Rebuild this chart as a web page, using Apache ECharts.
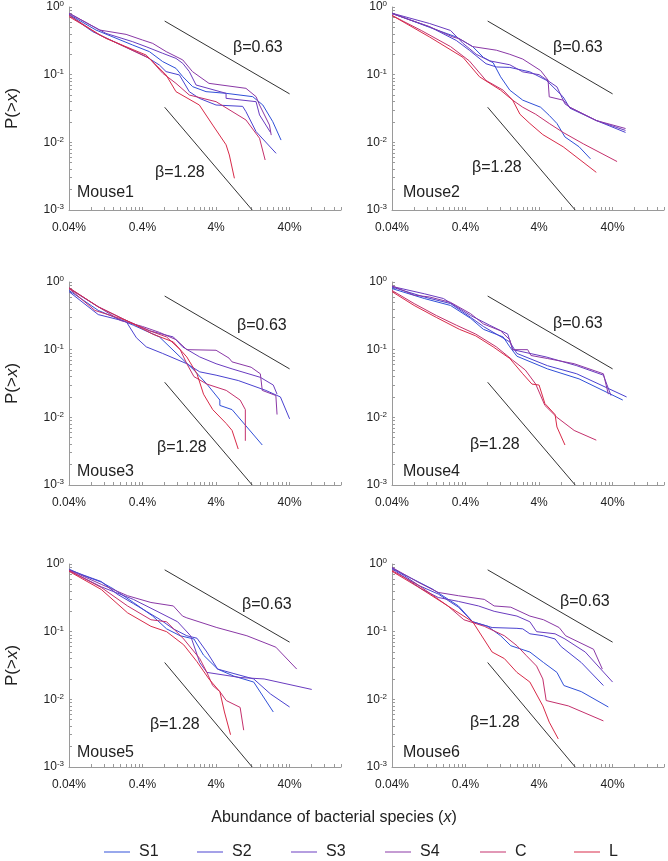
<!DOCTYPE html>
<html><head><meta charset="utf-8">
<script src="https://cdn.jsdelivr.net/npm/echarts@6/dist/echarts.min.js"></script>
<style>html,body{margin:0;padding:0;background:#fff}#c{width:668px;height:861px}</style>
</head><body><div id="c"></div>
<script>
// ---------- DATA ----------
const seriesNames = ['S1','S2','S3','S4','C','L'];
const mouseNames = ['Mouse1','Mouse2','Mouse3','Mouse4','Mouse5','Mouse6'];
const xTickValues = [0.04, 0.4, 4, 40];
const xTickLabels = ['0.04%', '0.4%', '4%', '40%'];
const yTickValues = [0.001, 0.01, 0.1, 1];
const yTickExps = ['-3', '-2', '-1', '0'];
const xRange = [0.04, 200];
const yRange = [0.001, 1];
const betaHighLabel = 'β=0.63';
const betaLowLabel = 'β=1.28';
const betaHighX = [0.8, 40];
const betaHighY = [[0.62,0.052],[0.62,0.052],[0.62,0.052],[0.62,0.052],[0.82,0.07],[0.82,0.07]];
const betaLowX = [0.8, 12.4];
const betaLowY = [[0.033,0.001],[0.033,0.001],[0.033,0.001],[0.033,0.001],[0.035,0.001],[0.035,0.001]];

// Mouse1
const m1S1 = [[0.04,0.78],[0.093,0.457],[0.294,0.274],[0.496,0.219],[0.752,0.156],[1.14,0.124],[1.41,0.0934],[1.92,0.0665],[2.92,0.0561],[5.47,0.053],[12.6,0.0473],[17.3,0.0356],[23.6,0.0202],[30.6,0.0108]];
const m1S2 = [[0.04,0.762],[0.084,0.432],[0.447,0.185],[0.678,0.139],[0.836,0.111],[1.27,0.099],[1.73,0.056],[2.37,0.0447],[4.0,0.0356],[9.2,0.034],[10.2,0.0284],[14,0.0144],[26.2,0.00688]];
const m1S3 = [[0.04,0.81],[0.127,0.408],[0.294,0.307],[0.447,0.259],[0.752,0.207],[1.14,0.174],[1.41,0.147],[1.73,0.111],[2.14,0.0703],[5.47,0.053],[5.47,0.0447],[14,0.0399],[15.6,0.0254],[22,0.014]];
const m1S4 = [[0.04,0.81],[0.104,0.457],[0.239,0.394],[0.40,0.325],[0.55,0.29],[0.84,0.219],[1.41,0.165],[1.91,0.111],[3.2,0.0744],[10.2,0.0628],[14,0.0473],[15.6,0.0356],[21.3,0.018],[22.5,0.0128]];
const m1C = [[0.04,0.762],[0.104,0.386],[0.496,0.174],[0.752,0.105],[1.14,0.0744],[1.73,0.05],[4.0,0.0399],[10.2,0.0214],[15.6,0.0115],[18.6,0.00548]];
const m1L = [[0.04,0.72],[0.127,0.344],[0.447,0.195],[0.55,0.156],[0.836,0.099],[1.14,0.0561],[2.37,0.0356],[3.6,0.018],[5.47,0.0092],[6.06,0.0065],[7.1,0.00294]];
// Mouse2
const m2S1 = [[0.04,0.81],[0.13,0.5],[0.3,0.36],[0.5,0.26],[0.7,0.18],[0.95,0.15],[1.2,0.093],[1.6,0.059],[2.4,0.042],[4.2,0.033],[5.5,0.025],[7,0.019],[9,0.012],[14,0.0086],[20,0.0057]];
const m2S2 = [[0.04,0.80],[0.13,0.51],[0.3,0.32],[0.45,0.23],[0.76,0.145],[1.05,0.13],[1.6,0.128],[3,0.11],[5,0.083],[8.5,0.047],[10.5,0.032],[24,0.021],[60,0.014]];
const m2S3 = [[0.04,0.81],[0.13,0.57],[0.25,0.45],[0.37,0.29],[0.56,0.2],[0.85,0.16],[1.6,0.14],[2.4,0.11],[4,0.1],[7,0.066],[9,0.037],[10.5,0.033],[24,0.021],[60,0.015]];
const m2S4 = [[0.04,0.80],[0.13,0.51],[0.27,0.36],[0.33,0.34],[0.5,0.26],[1.05,0.23],[1.6,0.2],[2.4,0.17],[4.2,0.115],[5.3,0.083],[5.5,0.047],[8.5,0.042],[10.4,0.033],[24,0.021],[60,0.016]];
const m2C = [[0.04,0.75],[0.1,0.45],[0.25,0.26],[0.45,0.16],[0.76,0.082],[1.3,0.059],[1.75,0.042],[2.4,0.033],[3.6,0.026],[5.5,0.019],[8.5,0.014],[16,0.0095],[46,0.0052]];
const m2L = [[0.04,0.75],[0.13,0.36],[0.37,0.18],[0.62,0.093],[1.2,0.059],[1.75,0.042],[2.2,0.026],[3,0.019],[4.5,0.013],[8.5,0.0086],[24,0.0036]];
// Mouse3
const m3S1 = [[0.04,0.75],[0.1,0.38],[0.3,0.23],[0.68,0.154],[1.3,0.078],[2,0.05],[3,0.031],[4.5,0.018],[4.5,0.015],[6.6,0.013],[17,0.0039]];
const m3S2 = [[0.04,0.72],[0.1,0.33],[0.24,0.26],[0.33,0.15],[0.45,0.11],[0.75,0.088],[1.6,0.062],[2.4,0.047],[4,0.042],[8,0.035],[19,0.025],[30,0.02],[40,0.0095]];
const m3S3 = [[0.04,0.8],[0.1,0.43],[0.24,0.27],[0.5,0.19],[1.05,0.154],[1.4,0.11],[2.4,0.078],[4,0.062],[6.6,0.052],[16,0.039],[24,0.03],[27,0.022]];
const m3S4 = [[0.04,0.82],[0.1,0.43],[0.2,0.27],[0.4,0.22],[0.68,0.18],[1.15,0.14],[1.6,0.1],[4,0.098],[6,0.075],[6.6,0.066],[12,0.055],[16,0.044],[17,0.025],[26,0.021],[27,0.011]];
const m3C = [[0.04,0.8],[0.09,0.38],[0.24,0.27],[0.5,0.19],[0.85,0.154],[1.3,0.1],[1.6,0.062],[2,0.04],[3,0.031],[5.5,0.025],[8.5,0.018],[10,0.013],[10,0.0045]];
const m3L = [[0.04,0.82],[0.1,0.43],[0.3,0.24],[0.55,0.17],[1.05,0.13],[1.6,0.078],[2.2,0.044],[2.7,0.022],[3.6,0.013],[5.5,0.0081],[6.6,0.0064],[8,0.0034]];
// Mouse4
const m4S1 = [[0.04,0.8],[0.11,0.57],[0.25,0.45],[0.47,0.29],[0.7,0.2],[1.3,0.154],[1.6,0.11],[2,0.08],[5.2,0.052],[14,0.037],[55,0.018]];
const m4S2 = [[0.04,0.84],[0.11,0.6],[0.25,0.48],[0.47,0.3],[0.7,0.22],[1.05,0.17],[1.6,0.13],[2,0.088],[5.2,0.058],[13,0.044],[62,0.02]];
const m4S3 = [[0.04,0.86],[0.11,0.67],[0.2,0.57],[0.47,0.32],[0.85,0.23],[1.5,0.17],[1.75,0.1],[5,0.078],[13,0.058],[30,0.042],[38,0.021]];
const m4S4 = [[0.04,0.88],[0.08,0.64],[0.13,0.6],[0.25,0.5],[0.47,0.34],[0.7,0.24],[1.2,0.19],[1.6,0.14],[1.75,0.1],[2.8,0.1],[3.1,0.082],[5.2,0.074],[12,0.062],[30,0.044],[35,0.022]];
const m4C = [[0.04,0.75],[0.08,0.48],[0.16,0.32],[0.3,0.23],[0.55,0.17],[1.05,0.11],[1.75,0.07],[2.6,0.05],[3.6,0.031],[4.8,0.015],[7,0.01],[12,0.0064],[24,0.0046]];
const m4L = [[0.04,0.72],[0.08,0.45],[0.16,0.3],[0.33,0.2],[0.55,0.16],[0.95,0.11],[1.6,0.074],[2.4,0.044],[3.2,0.031],[4,0.03],[4.8,0.016],[6.6,0.011],[7,0.0072],[9,0.0039]];
// Mouse5
const m5S1 = [[0.04,0.84],[0.064,0.67],[0.11,0.54],[0.16,0.43],[0.3,0.27],[0.55,0.17],[0.85,0.11],[1.3,0.087],[2,0.078],[2.7,0.045],[4.2,0.028],[7,0.022],[13,0.018],[24,0.0065]];
const m5S2 = [[0.04,0.82],[0.11,0.55],[0.18,0.36],[0.3,0.26],[0.45,0.2],[0.7,0.15],[1.05,0.11],[1.6,0.087],[2.2,0.08],[3,0.05],[4.2,0.028],[7,0.024],[13,0.02],[22,0.012],[40,0.0077]];
const m5S3 = [[0.04,0.8],[0.11,0.46],[0.3,0.3],[0.63,0.2],[1.2,0.14],[1.8,0.087],[2.4,0.035],[3,0.025],[8.5,0.021],[18,0.02],[80,0.014]];
const m5S4 = [[0.04,0.82],[0.11,0.5],[0.25,0.34],[0.52,0.27],[1.05,0.24],[1.4,0.17],[1.6,0.16],[4.1,0.115],[10.5,0.087],[26,0.059],[50,0.028]];
const m5C = [[0.04,0.8],[0.11,0.45],[0.25,0.24],[0.52,0.15],[0.85,0.14],[1.45,0.078],[2.4,0.04],[3,0.025],[3.6,0.016],[4.5,0.013],[5.5,0.0096],[8.5,0.0076],[9.5,0.0035]];
const m5L = [[0.04,0.78],[0.11,0.42],[0.25,0.19],[0.52,0.12],[0.85,0.1],[1.45,0.064],[2.2,0.036],[3.2,0.02],[4.5,0.013],[5.2,0.0065],[6.3,0.003]];
// Mouse6
const m6S1 = [[0.04,0.86],[0.14,0.43],[0.32,0.24],[0.5,0.14],[0.8,0.12],[1.2,0.087],[1.65,0.062],[3,0.05],[4.6,0.035],[7,0.025],[8.7,0.016],[15,0.013],[35,0.0077]];
const m6S2 = [[0.04,0.89],[0.093,0.48],[0.17,0.36],[0.32,0.23],[0.5,0.14],[0.92,0.115],[2,0.112],[2.4,0.11],[3,0.093],[4.6,0.087],[6.6,0.078],[8,0.06],[15,0.035],[30,0.016]];
const m6S3 = [[0.04,0.85],[0.1,0.43],[0.17,0.32],[0.32,0.28],[0.6,0.24],[0.98,0.2],[2,0.17],[3,0.14],[3.7,0.1],[6.6,0.093],[9,0.078],[17,0.05],[40,0.018]];
const m6S4 = [[0.04,0.89],[0.093,0.53],[0.17,0.38],[0.32,0.34],[0.72,0.3],[0.98,0.24],[1.65,0.23],[3,0.17],[4.6,0.15],[7.5,0.115],[9.2,0.087],[22,0.055],[29,0.028]];
const m6C = [[0.04,0.8],[0.093,0.48],[0.23,0.24],[0.38,0.15],[0.72,0.12],[1.35,0.087],[2,0.062],[2.7,0.044],[3.7,0.031],[4.5,0.02],[5,0.0096],[10,0.008],[30,0.0048]];
const m6L = [[0.04,0.78],[0.093,0.45],[0.23,0.24],[0.5,0.14],[0.92,0.05],[1.35,0.04],[2,0.025],[3,0.018],[4.5,0.008],[5.5,0.0046],[7.3,0.0026]];

const panelData = [
  [m1S1,m1S2,m1S3,m1S4,m1C,m1L],
  [m2S1,m2S2,m2S3,m2S4,m2C,m2L],
  [m3S1,m3S2,m3S3,m3S4,m3C,m3L],
  [m4S1,m4S2,m4S3,m4S4,m4C,m4L],
  [m5S1,m5S2,m5S3,m5S4,m5C,m5L],
  [m6S1,m6S2,m6S3,m6S4,m6C,m6L]
];

// ---------- STYLE / LAYOUT ----------
const seriesColors = ['#3050d8','#4a42d0','#6a3cc0','#8a38a6','#c4306c','#d82a48'];
const FONT = '"Liberation Sans", Arial, sans-serif';
const gridLefts = [69, 392];
const gridTops = [7, 282, 564];
const gridW = 272, gridH = 203;
const mousePos = [[77,193],[403,193],[77,472],[403,472],[77,753],[403,753]];
const betaHighPos = [[233,48],[553,48],[237,326],[553,324],[242,605],[560,602]];
const betaLowPos = [[155,173],[472,168],[157,448],[470,445],[150,725],[470,723]];
const legendLefts = [104, 197, 291, 385, 480, 574];

function logTicks(base, lo, hi) {
  const out = [];
  for (let n = 0; n < 8; n++) {
    for (let k = 1; k <= 9; k++) {
      const v = +(base * k * Math.pow(10, n)).toPrecision(6);
      if (v >= lo * 0.999 && v <= hi * 1.001) out.push(v);
    }
  }
  return out;
}
const xMinorTicks = logTicks(xRange[0], xRange[0], xRange[1]);
const yMinorTicks = logTicks(yRange[0], yRange[0], yRange[1]);

const grids = [], xAxes = [], yAxes = [], series = [], graphics = [];
for (let p = 0; p < 6; p++) {
  const col = p % 2, row = Math.floor(p / 2);
  grids.push({left: gridLefts[col], top: gridTops[row], width: gridW, height: gridH, containLabel: false});
  xAxes.push({
    type: 'log', logBase: 10, gridIndex: p, min: xRange[0], max: xRange[1],
    axisLine: {show: true, lineStyle: {color: '#9a9a9a', width: 1}},
    axisTick: {show: true, inside: true, length: 3, customValues: xMinorTicks, lineStyle: {color: '#9a9a9a'}},
    minorTick: {show: false}, splitLine: {show: false},
    axisLabel: {
      customValues: xTickValues, margin: 12, fontSize: 12, color: '#222', fontFamily: FONT,
      formatter: function (v) {
        const i = xTickValues.findIndex(t => Math.abs(Math.log10(t) - Math.log10(v)) < 1e-6);
        return i >= 0 ? xTickLabels[i] : '';
      }
    }
  });
  yAxes.push({
    type: 'log', logBase: 10, gridIndex: p, min: yRange[0], max: yRange[1],
    name: col === 0 ? 'P(>{i|x})' : '', nameLocation: 'middle', nameGap: 48, nameRotate: 90,
    nameTextStyle: {fontSize: 17, color: '#222', fontFamily: FONT, rich: {i: {fontStyle: 'italic', fontSize: 17, fontFamily: FONT, color: '#222'}}},
    axisLine: {show: true, lineStyle: {color: '#9a9a9a', width: 1}},
    axisTick: {show: true, inside: true, length: 3, customValues: yMinorTicks, lineStyle: {color: '#9a9a9a'}},
    minorTick: {show: false}, splitLine: {show: false},
    axisLabel: {
      customValues: yTickValues, margin: 5, color: '#222', fontFamily: FONT,
      formatter: function (v) {
        const i = yTickValues.findIndex(t => Math.abs(Math.log10(t) - Math.log10(v)) < 1e-6);
        return i >= 0 ? '{b|10}{s|' + yTickExps[i] + '}' : '';
      },
      rich: {
        b: {fontSize: 12, fontFamily: FONT, color: '#222', lineHeight: 14},
        s: {fontSize: 8, fontFamily: FONT, color: '#222', verticalAlign: 'top', lineHeight: 8, padding: [0, 0, 6, 0]}
      }
    }
  });
  for (let s = 0; s < 6; s++) {
    series.push({
      name: seriesNames[s], type: 'line', xAxisIndex: p, yAxisIndex: p,
      data: panelData[p][s], showSymbol: false, symbol: 'none', animation: false,
      lineStyle: {width: 1, color: seriesColors[s]}, itemStyle: {color: seriesColors[s]}, z: 3
    });
  }
  series.push({
    name: 'betaHigh' + p, type: 'line', xAxisIndex: p, yAxisIndex: p, silent: true,
    data: [[betaHighX[0], betaHighY[p][0]], [betaHighX[1], betaHighY[p][1]]],
    showSymbol: false, symbol: 'none', animation: false, lineStyle: {width: 1, color: '#333'}, z: 2
  });
  series.push({
    name: 'betaLow' + p, type: 'line', xAxisIndex: p, yAxisIndex: p, silent: true,
    data: [[betaLowX[0], betaLowY[p][0]], [betaLowX[1], betaLowY[p][1]]],
    showSymbol: false, symbol: 'none', animation: false, lineStyle: {width: 1, color: '#333'}, z: 2
  });
  graphics.push({type: 'text', x: mousePos[p][0], y: mousePos[p][1],
    style: {text: mouseNames[p], font: '16px ' + FONT, fill: '#222', verticalAlign: 'middle', align: 'left'}});
  graphics.push({type: 'text', x: betaHighPos[p][0], y: betaHighPos[p][1],
    style: {text: betaHighLabel, font: '16px ' + FONT, fill: '#222', verticalAlign: 'middle', align: 'left'}});
  graphics.push({type: 'text', x: betaLowPos[p][0], y: betaLowPos[p][1],
    style: {text: betaLowLabel, font: '16px ' + FONT, fill: '#222', verticalAlign: 'middle', align: 'left'}});
}
graphics.push({type: 'text', x: 334, y: 818,
  style: {text: 'Abundance of bacterial species ({i|x})', font: '16px ' + FONT, fill: '#222',
    verticalAlign: 'middle', align: 'center',
    rich: {i: {fontStyle: 'italic', fontSize: 16, fontFamily: FONT, fill: '#222'}}}});

const legends = seriesNames.map((n, i) => ({
  data: [n], left: legendLefts[i], top: 844, orient: 'horizontal', padding: 0,
  icon: 'rect', itemWidth: 26, itemHeight: 1, selectedMode: false,
  textStyle: {fontSize: 16, color: '#222', fontFamily: FONT, padding: [0, 0, 0, 4]}
}));

const chart = echarts.init(document.getElementById('c'), null, {renderer: 'canvas'});
chart.setOption({
  animation: false,
  backgroundColor: '#fff',
  grid: grids, xAxis: xAxes, yAxis: yAxes, series: series,
  graphic: graphics,
  legend: legends
});
</script></body></html>
